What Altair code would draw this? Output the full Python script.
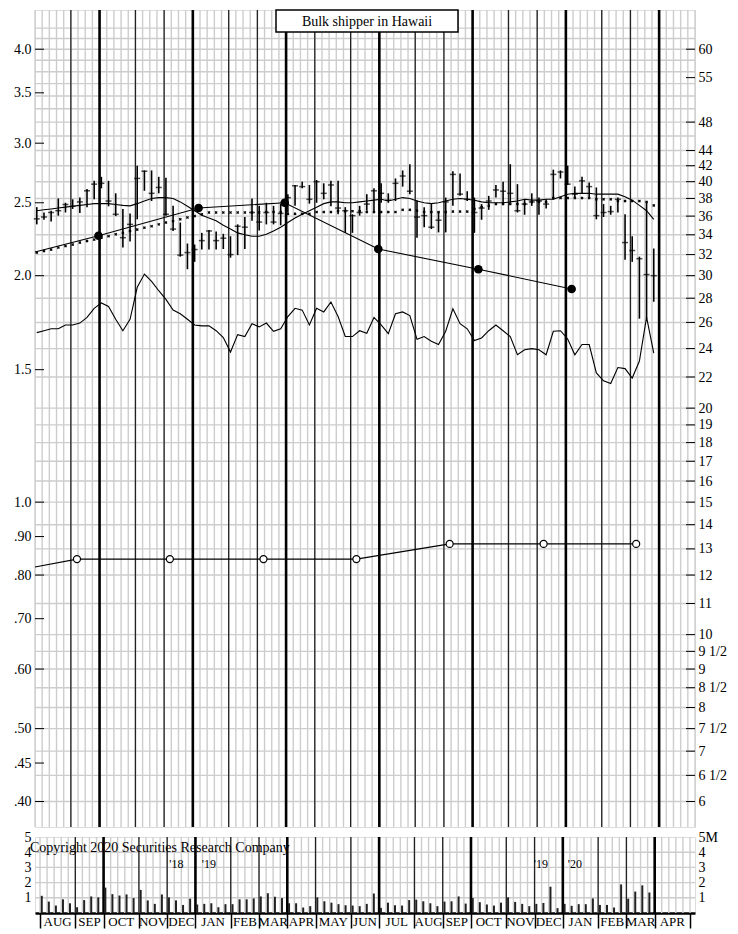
import altair as alt
import pandas as pd

FONT = "Liberation Serif"
W = 660
H_PRICE = 817
H_VOL = 76

# ---------------- data ----------------
months = ["AUG", "SEP", "OCT", "NOV", "DEC", "JAN", "FEB", "MAR", "APR", "MAY", "JUN",
          "JUL", "AUG", "SEP", "OCT", "NOV", "DEC", "JAN", "FEB", "MAR", "APR"]
month_start = [0, 5, 9, 14, 18, 22, 27, 31, 35, 39, 44, 48, 53, 57, 61, 66, 70, 74, 79, 83, 87]
quarter_lines = [9, 22, 35, 48, 61, 74, 87]
total_weeks = 92

bar_high = [37.0, 36.4, 36.6, 38.0, 37.5, 37.9, 38.1, 39.1, 40.1, 40.6, 40.1, 38.6, 36.8, 36.3, 42.0, 41.4, 41.4, 40.6, 40.5, 37.15, 35.3, 33.1, 33.0,
            34.2, 34.5, 34.35, 34.1, 33.85, 35.1, 35.9, 38.0, 37.15, 37.5, 37.15, 37.35, 38.5, 39.6, 40.0, 39.6, 40.2, 39.8, 40.1, 40.1, 37.0, 36.2, 37.15,
            38.5, 39.2, 39.8, 38.6, 40.4, 41.4, 42.2, 37.8, 37.0, 37.35, 36.45, 38.1, 41.3, 41.0, 38.85, 38.1, 37.35, 38.3, 39.6, 40.0, 42.2, 39.7, 37.9,
            38.6, 38.1, 37.9, 41.5, 41.4, 42.0, 39.4, 40.6, 39.9, 39.3, 37.35, 37.15, 38.1, 36.2, 33.85, 31.8, 37.5, 32.6]
bar_low = [35.1, 35.6, 35.4, 36.05, 36.4, 36.8, 36.35, 37.0, 37.9, 39.2, 37.1, 36.0, 32.7, 33.3, 35.65, 38.9, 37.7, 38.6, 36.05, 34.4, 31.8, 30.6, 31.3,
           32.5, 32.5, 32.5, 32.55, 31.7, 31.95, 32.55, 35.5, 34.45, 35.1, 35.1, 35.0, 36.4, 37.15, 39.2, 37.4, 37.5, 37.9, 37.1, 36.2, 34.2, 34.2, 36.05,
           36.6, 36.4, 37.5, 37.5, 37.7, 39.4, 38.5, 33.7, 34.8, 34.6, 34.25, 34.25, 37.15, 38.3, 37.7, 34.2, 35.6, 36.7, 38.1, 37.35, 37.5, 36.4, 36.15,
           37.15, 36.15, 36.85, 37.9, 40.4, 39.6, 38.1, 38.6, 38.1, 35.65, 35.9, 36.15, 36.4, 31.5, 31.3, 26.3, 26.3, 27.7]
bar_close = [35.7, 35.9, 36.4, 36.6, 37.3, 37.1, 37.6, 38.9, 39.7, 39.8, 37.7, 36.2, 33.7, 35.1, 40.4, 41.3, 38.6, 39.3, 36.2, 34.6, 31.95, 32.2, 32.5,
             33.4, 34.4, 33.4, 33.65, 32.0, 34.9, 34.8, 36.4, 35.35, 36.4, 35.35, 36.3, 38.1, 39.5, 39.4, 37.9, 40.0, 38.6, 39.6, 36.9, 36.6, 36.05, 36.4,
             37.35, 38.9, 38.6, 37.8, 39.8, 40.7, 38.85, 35.9, 36.05, 34.8, 35.55, 37.6, 40.9, 38.5, 37.9, 36.4, 36.9, 37.7, 39.0, 38.85, 38.6, 36.6, 37.35,
             37.6, 37.7, 37.35, 40.9, 41.2, 39.7, 38.5, 40.1, 39.4, 36.05, 36.4, 36.5, 37.9, 33.2, 32.4, 31.6, 30.1, 30.0]
ma_short = [36.6, 36.7, 36.8, 36.9, 37.0, 37.1, 37.2, 37.3, 37.4, 37.4, 37.4, 37.3, 37.2, 37.15, 37.4, 37.7, 38.0, 38.1, 38.1, 38.0, 37.6, 37.1, 36.6,
            36.1, 35.8, 35.5, 35.0, 34.6, 34.2, 34.0, 33.85, 33.85, 34.05, 34.4, 34.8, 35.3, 35.8, 36.2, 36.6, 37.0, 37.4, 37.6, 37.6, 37.5, 37.5, 37.6,
            37.7, 37.8, 37.9, 37.7, 37.9, 38.1, 38.0, 37.7, 37.5, 37.4, 37.5, 37.7, 37.9, 38.0, 37.9, 37.8, 37.6, 37.5, 37.5, 37.5, 37.6, 37.7, 37.9,
            37.8, 37.8, 37.9, 37.9, 38.2, 38.5, 38.6, 38.6, 38.6, 38.5, 38.5, 38.5, 38.5, 38.2, 37.8, 37.2, 36.6, 35.65]
ma_long = [32.2, 32.35, 32.5, 32.7, 32.85, 33.0, 33.2, 33.35, 33.5, 33.7, 33.85, 34.05, 34.2, 34.4, 34.55, 34.75, 34.9, 35.1, 35.3, 35.45, 35.65, 35.85,
           36.0, 36.2, 36.4, 36.4, 36.4, 36.4, 36.4, 36.4, 36.4, 36.4, 36.45, 36.45, 36.45, 36.25, 36.25, 36.25, 36.25, 36.45, 36.45, 36.45, 36.55, 36.55, 36.55, 36.55,
           36.45, 36.45, 36.45, 36.45, 36.45, 36.7, 36.7, 36.6, 36.45, 36.45, 36.45, 36.45, 36.5, 36.5, 36.5, 36.8, 37.0, 37.15, 37.35, 37.35, 37.35, 37.35, 37.35,
           37.6, 37.6, 37.6, 38.05, 38.05, 38.05, 38.05, 38.05, 38.05, 37.9, 37.9, 37.9, 37.7, 37.7, 37.7, 37.7, 37.6, 37.2]
rel_strength = [1.68, 1.69, 1.70, 1.70, 1.72, 1.72, 1.73, 1.76, 1.81, 1.84, 1.82, 1.75, 1.69, 1.75, 1.93, 2.01, 1.965, 1.91, 1.86, 1.80, 1.78, 1.75, 1.72,
                1.715, 1.715, 1.69, 1.655, 1.583, 1.67, 1.66, 1.727, 1.71, 1.73, 1.687, 1.70, 1.765, 1.81, 1.80, 1.72, 1.81, 1.79, 1.845, 1.765, 1.66, 1.66, 1.69,
                1.677, 1.76, 1.72, 1.675, 1.78, 1.79, 1.77, 1.646, 1.66, 1.636, 1.62, 1.687, 1.807, 1.727, 1.70, 1.64, 1.653, 1.69, 1.72, 1.69, 1.66, 1.57, 1.594,
                1.60, 1.594, 1.57, 1.687, 1.69, 1.648, 1.57, 1.62, 1.62, 1.485, 1.45, 1.438, 1.51, 1.505, 1.462, 1.54, 1.762, 1.578]
volume = [1.13, 0.75, 0.49, 0.90, 0.64, 0.38, 0.85, 1.09, 1.03, 1.67, 1.24, 1.15, 1.22, 0.98, 1.52, 0.83, 0.60, 1.22, 1.03, 0.83, 0.53, 0.94, 0.56,
          0.60, 0.64, 0.38, 0.58, 0.58, 0.90, 0.90, 0.96, 1.09, 1.30, 1.07, 0.98, 0.64, 0.64, 0.36, 0.45, 1.03, 0.77, 0.68, 0.58, 0.51, 0.49, 0.45,
          0.60, 1.28, 0.34, 0.68, 0.51, 0.49, 0.85, 0.88, 0.77, 0.64, 0.45, 0.75, 0.77, 1.09, 0.62, 0.98, 0.71, 0.56, 0.49, 0.68, 1.03, 0.73, 0.60,
          0.45, 0.60, 0.66, 1.73, 0.32, 0.60, 0.47, 0.58, 0.58, 0.96, 0.53, 0.53, 0.36, 1.88, 0.94, 1.41, 1.82, 1.35]

earn_week = [0, 8.85, 22.8, 34.8, 47.85, 61.8, 74.8]
earn_value = [2.15, 2.26, 2.46, 2.50, 2.17, 2.04, 1.92]
div_week = [0, 5.85, 18.8, 31.85, 44.8, 57.8, 70.9, 83.8]
div_value = [0.82, 0.84, 0.84, 0.84, 0.84, 0.88, 0.88, 0.88]

left_ticks = [4.0, 3.5, 3.0, 2.5, 2.0, 1.5, 1.0, 0.9, 0.8, 0.7, 0.6, 0.5, 0.45, 0.4]
right_ticks = [60, 55, 48, 44, 42, 40, 38, 36, 34, 32, 30, 28, 26, 24, 22, 20, 19, 18, 17, 16,
               15, 14, 13, 12, 11, 10, 9.5, 9, 8.5, 8, 7.5, 7, 6.5, 6]
price_grid = [64, 62, 60, 58, 56, 54, 52, 50, 48, 46, 44, 42, 40, 38, 36, 34, 32, 30, 28, 26, 24, 22,
              20, 19, 18, 17, 16, 15, 14, 13, 12, 11, 10, 9.5, 9, 8.5, 8, 7.5, 7, 6.5, 6]
vol_ticks = [1, 2, 3, 4, 5]
vol_grid = [1, 2, 3, 4]
year_labels = ["'18", "'19", "'19", "'20"]
year_week = [19.3, 23.9, 70.9, 75.7]
title_text = "Bulk shipper in Hawaii"
copyright_text = "Copyright 2020 Securities Research Company"

# ---------------- tables ----------------
bars = pd.DataFrame({
    "week": [i + 0.25 for i in range(len(bar_high))],
    "high": bar_high, "low": bar_low, "close": bar_close,
    "ma_short": ma_short, "ma_long": ma_long, "rs": rel_strength, "vol": volume,
})
earn = pd.DataFrame({"week": earn_week, "v": earn_value, "dot": [False] + [True] * (len(earn_week) - 1)})
divs = pd.DataFrame({"week": div_week, "v": div_value, "dot": [False] + [True] * (len(div_week) - 1)})
week_lines = pd.DataFrame({"w": list(range(0, total_weeks + 1))})
month_lines = pd.DataFrame({"w": [m for m in month_start if m not in quarter_lines and m != 0]})
q_lines = pd.DataFrame({"w": quarter_lines})
ends = month_start[1:] + [total_weeks]
month_lab = pd.DataFrame({"m": months, "mid": [(a + b) / 2 for a, b in zip(month_start, ends)]})

# ---------------- scales / axes ----------------
XS = alt.Scale(domain=[0, total_weeks], nice=False, zero=False)
LEFT_DOM = [0.370, 4.51]
LS = alt.Scale(type="log", domain=LEFT_DOM, nice=False, zero=False)
RS = alt.Scale(type="log", domain=[d * 15 for d in LEFT_DOM], nice=False, zero=False)

left_axis = alt.Axis(orient="left", values=left_ticks, ticks=False, domain=False, grid=False, title=None,
                     labelPadding=4, minExtent=22, labelOverlap=False, labelFlush=False, labelFontSize=14,
                     labelExpr="datum.value >= 1 ? format(datum.value, '.1f') : replace(format(datum.value, '.2f'), '0.', '.')")
right_axis = alt.Axis(orient="right", values=right_ticks, ticks=False, domain=False, grid=False, title=None,
                      labelPadding=3, labelOverlap=False, labelFlush=False, labelFontSize=14,
                      labelExpr="datum.value % 1 != 0 ? floor(datum.value) + ' 1/2' : '' + datum.value")


def xP(f):
    return alt.X(f, type="quantitative", scale=XS, axis=None)


def yL(f):
    return alt.Y(f, type="quantitative", scale=LS, axis=left_axis)


def yR(f):
    return alt.Y(f, type="quantitative", scale=RS, axis=right_axis)


GRID = "#cdcdcd"

# ---------------- price panel ----------------
hgrid = alt.Chart(pd.DataFrame({"p": price_grid})).mark_rule(color=GRID, strokeWidth=1.4).encode(y=yR("p"))
vgrid = alt.Chart(week_lines).mark_rule(color=GRID, strokeWidth=1.4).encode(x=xP("w"))
mlines = alt.Chart(month_lines).mark_rule(color="#222222", strokeWidth=1.3).encode(x=xP("w"))
qlines = alt.Chart(q_lines).mark_rule(color="black", strokeWidth=2.6).encode(x=xP("w"))
hl = alt.Chart(bars).mark_rule(color="black", strokeWidth=1.6).encode(
    x=xP("week"), y=yR("low"), y2=alt.Y2("high"))
cl = alt.Chart(bars).mark_tick(color="black", orient="horizontal", size=6, thickness=1.5).encode(
    x=xP("week"), y=yR("close"))
ma1 = alt.Chart(bars).mark_line(color="black", strokeWidth=1.1).encode(x=xP("week"), y=yR("ma_short"))
ma2 = alt.Chart(bars).mark_point(shape="cross", angle=45, size=9, filled=True, color="black", opacity=1).encode(
    x=xP("week"), y=yR("ma_long"))
rticks = alt.Chart(pd.DataFrame({"t": right_ticks})).mark_rule(color="black", strokeWidth=1).encode(
    x=alt.value(W - 9), x2=alt.value(W), y=yR("t"))
right_group = alt.layer(hgrid, vgrid, mlines, qlines, hl, cl, ma1, ma2, rticks)

rs_line = alt.Chart(bars).mark_line(color="black", strokeWidth=1.1).encode(x=xP("week"), y=yL("rs"))
earn_line = alt.Chart(earn).mark_line(color="black", strokeWidth=1.1).encode(x=xP("week"), y=yL("v"))
earn_dot = alt.Chart(earn).transform_filter("datum.dot").mark_circle(size=75, color="black", opacity=1).encode(
    x=xP("week"), y=yL("v"))
div_line = alt.Chart(divs).mark_line(color="black", strokeWidth=1.1).encode(x=xP("week"), y=yL("v"))
div_dot = alt.Chart(divs).transform_filter("datum.dot").mark_point(
    shape="circle", size=50, filled=True, fill="white", stroke="black", strokeWidth=1.2, opacity=1).encode(
    x=xP("week"), y=yL("v"))
lticks = alt.Chart(pd.DataFrame({"t": left_ticks})).mark_rule(color="black", strokeWidth=1).encode(
    x=alt.value(0), x2=alt.value(9), y=yL("t"))
tbox = alt.Chart(alt.Data(values=[{"t": title_text}])).mark_rect(
    fill="white", stroke="black", strokeWidth=1.5).encode(
    x=alt.value(241), x2=alt.value(423), y=alt.value(0), y2=alt.value(22))
ttext = alt.Chart(alt.Data(values=[{"t": title_text}])).mark_text(
    fontSize=14, baseline="middle", align="center", color="black").encode(
    x=alt.value(332), y=alt.value(12), text="t:N")
left_group = alt.layer(rs_line, earn_line, earn_dot, div_line, div_dot, lticks, tbox, ttext)

price = alt.layer(right_group, left_group).resolve_scale(y="independent").properties(width=W, height=H_PRICE)

# ---------------- volume panel ----------------
VS = alt.Scale(domain=[0, 5], nice=False, zero=True)
xaxis_vol = alt.Axis(orient="bottom", values=month_start + [total_weeks], labels=False, ticks=True, tickSize=15,
                     tickColor="black", tickWidth=1.5, domain=True, domainColor="black", domainWidth=2.5,
                     grid=False, title=None)
vl_axis = alt.Axis(orient="left", values=vol_ticks, ticks=False, domain=False, grid=False, title=None,
                   labelPadding=4, minExtent=22, labelOverlap=False, labelFlush=False, labelFontSize=14)
vr_axis = alt.Axis(orient="right", values=vol_ticks, ticks=False, domain=False, grid=False, title=None,
                   labelPadding=3, labelOverlap=False, labelFlush=False, labelFontSize=14,
                   labelExpr="datum.value == 5 ? '5M' : '' + datum.value")


def xV(f):
    return alt.X(f, type="quantitative", scale=XS, axis=xaxis_vol)


def yVL(f):
    return alt.Y(f, type="quantitative", scale=VS, axis=vl_axis)


def yVR(f):
    return alt.Y(f, type="quantitative", scale=VS, axis=vr_axis)


v_hgrid = alt.Chart(pd.DataFrame({"v": vol_grid})).mark_rule(color=GRID, strokeWidth=1.4).encode(y=yVR("v"))
v_vgrid = alt.Chart(week_lines).mark_rule(color=GRID, strokeWidth=1.4).encode(x=xV("w"))
v_mlines = alt.Chart(month_lines).mark_rule(color="#222222", strokeWidth=1.3).encode(x=xV("w"))
v_qlines = alt.Chart(q_lines).mark_rule(color="black", strokeWidth=2.6).encode(x=xV("w"))
v_bars = alt.Chart(bars).mark_bar(size=2, color="#222222").encode(x=xV("week"), y=yVL("vol"))
v_years = alt.Chart(pd.DataFrame({"lab": year_labels, "w": year_week, "yv": [3.25] * 4})).mark_text(
    fontSize=12, color="black", align="center", baseline="middle").encode(x=xV("w"), y=yVL("yv"), text="lab:N")
v_copy = alt.Chart(alt.Data(values=[{"t": copyright_text, "yv": 4.25}])).mark_text(
    fontSize=14, color="black", align="left", baseline="middle").encode(
    x=alt.value(-5), y=yVL("yv"), text="t:N")
v_months = alt.Chart(month_lab).mark_text(fontSize=13, color="black", align="center", baseline="middle").encode(
    x=xV("mid"), y=alt.value(H_VOL + 9), text="m:N")

vol_right = alt.layer(v_hgrid)
vol_left = alt.layer(v_vgrid, v_mlines, v_qlines, v_bars, v_years, v_copy, v_months)
vol = alt.layer(vol_right, vol_left).resolve_scale(y="independent").properties(width=W, height=H_VOL)

chart = alt.vconcat(price, vol, spacing=0).properties(
    padding={"left": 4, "top": 0, "right": 0, "bottom": 0}, background="white"
).configure_view(stroke="black", strokeWidth=2).configure(font=FONT).configure_axis(
    labelFont=FONT, labelColor="black", labelFontSize=14)

chart.save("out.html", embed_options={"renderer": "svg", "actions": False})
